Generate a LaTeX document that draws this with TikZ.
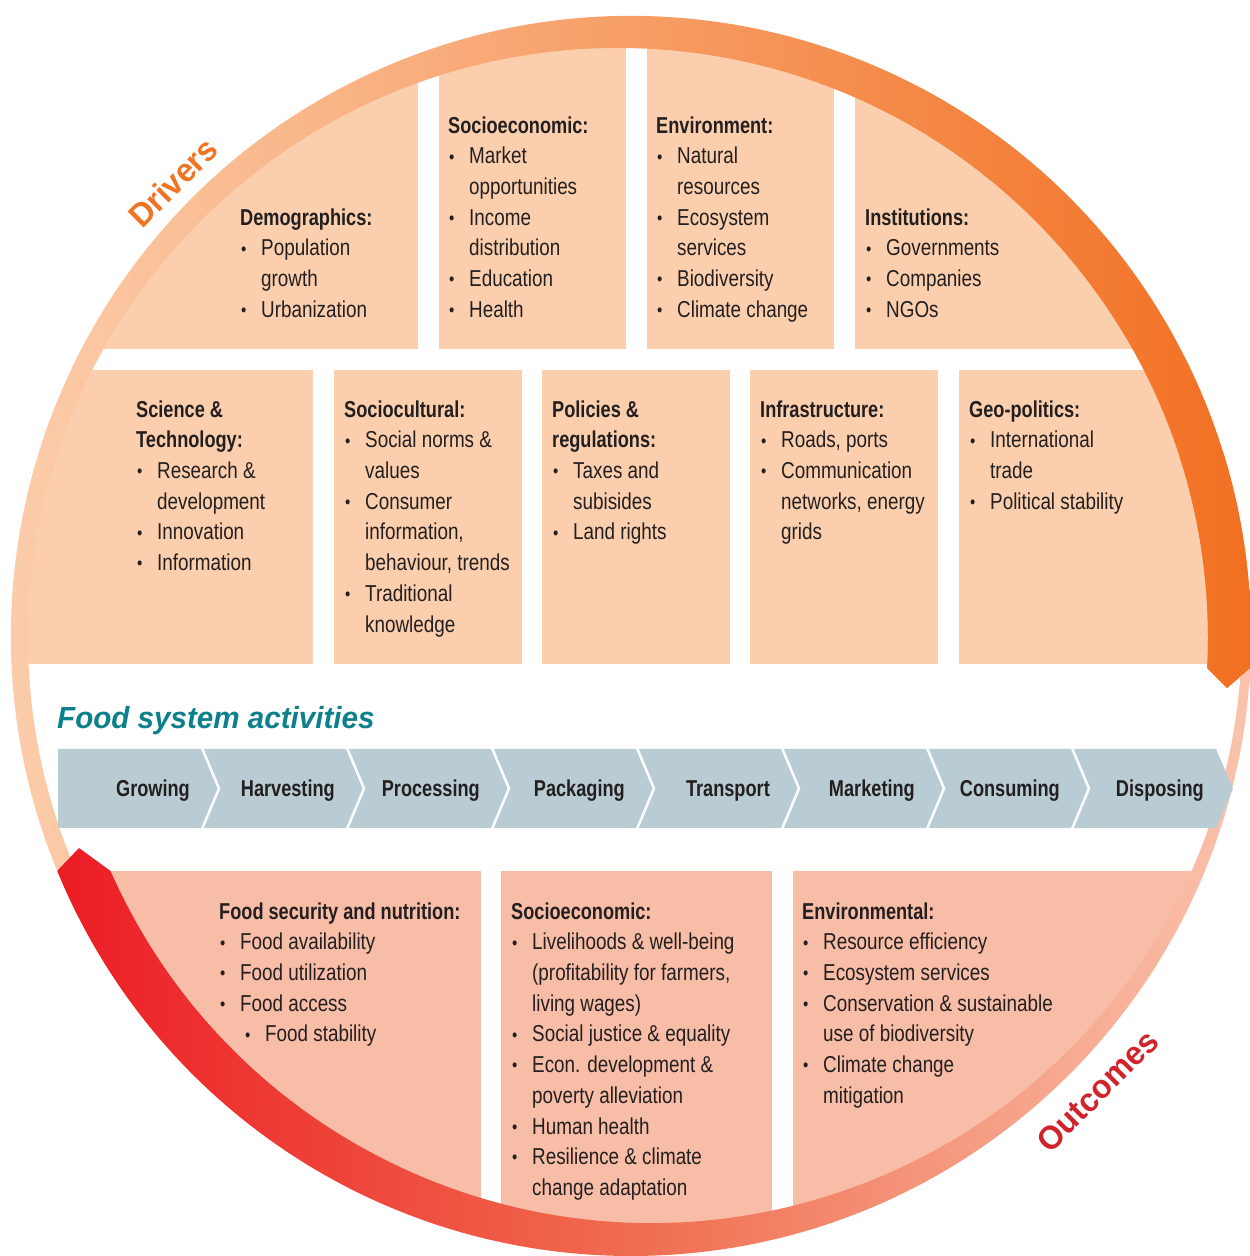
\documentclass[tikz,border=0pt]{standalone}
\usepackage{fontspec}
\usepackage{graphicx}
\setmainfont{Liberation Sans}[FakeStretch=0.82]
\newfontfamily\hdfont{Liberation Sans}[FakeStretch=0.79]
\newfontfamily\ttlfont{Liberation Sans}[FakeStretch=0.97]
\usetikzlibrary{calc}
\definecolor{boxtop}{HTML}{FBCFAD}
\definecolor{boxbot}{HTML}{F8BDA6}
\definecolor{chev}{HTML}{B9CBD3}
\definecolor{txt}{HTML}{231F20}
\definecolor{ttlcol}{HTML}{0E808C}
\definecolor{drvL}{HTML}{FCD3B4}
\definecolor{drvR}{HTML}{F26F21}
\definecolor{outL}{HTML}{EC1C24}
\definecolor{outM}{HTML}{F07052}
\definecolor{outR}{HTML}{FAC4AE}
\definecolor{drvtxt}{HTML}{EF7424}
\definecolor{outtxt}{HTML}{D0232C}
\newcommand{\myhd}[1]{{\hdfont\bfseries #1}}
\newcommand{\mybul}{\makebox[21pt][l]{\hspace{1pt}\raisebox{0.8pt}{\scalebox{0.8}{\textbullet}}}}
\newcommand{\myind}{\hspace*{21pt}}
\newcommand{\mystrut}{\rule{0pt}{20pt}}
\begin{document}
\begin{tikzpicture}[x=1pt,y=1pt,
  boxtext/.style={anchor=north west, inner sep=0pt, align=left, text=txt,
    font=\fontsize{23}{30.7}\selectfont},
  chevlbl/.style={anchor=base east, inner sep=0pt, text=txt,
    font=\hdfont\bfseries\fontsize{23}{23}\selectfont},
  ringlbl/.style={inner sep=0pt, anchor=base, rotate=45,
    font=\ttlfont\bfseries\fontsize{33}{33}\selectfont}]
\useasboundingbox (0,0) rectangle (1250,1256);
\coordinate (O) at (631,620);
\coordinate (Di) at (618,618);
\coordinate (Oi) at (651,624);

% boxes
\begin{scope}
\clip (O) circle[radius=619];
\fill[boxtop] (-10,907) rectangle (418,1300);
\fill[boxtop] (439,907) rectangle (626,1300);
\fill[boxtop] (647,907) rectangle (834,1300);
\fill[boxtop] (855,907) rectangle (1300,1300);
\fill[boxtop] (-10,592) rectangle (313,886);
\fill[boxtop] (334,592) rectangle (522,886);
\fill[boxtop] (542,592) rectangle (730,886);
\fill[boxtop] (750,592) rectangle (938,886);
\fill[boxtop] (959,592) rectangle (1300,886);
\fill[boxbot] (-10,-10) rectangle (481,385);
\fill[boxbot] (501,-10) rectangle (772,385);
\fill[boxbot] (793,-10) rectangle (1300,385);
\end{scope}

% drivers ring
\shade[left color=drvL, right color=drvR]
  ($(O)+(207:620)$) arc[start angle=207, end angle=-2.96, radius=620]
  -- (1227,568) -- ($(Di)+(-2.92:590)$)
  arc[start angle=-2.92, end angle=207, radius=590] -- cycle;
% outcomes ring
\shade[left color=outL, right color=outR, middle color=outM]
  ($(O)+(1:620)$) arc[start angle=1, end angle=-157.74, radius=620]
  -- (79,408) -- ($(Oi)+(-156.15:591)$)
  arc[start angle=-156.15, end angle=1, radius=591] -- cycle;
% drivers tip again on top
\begin{scope}
\clip (900,450) rectangle (1300,800);
\shade[left color=drvL, right color=drvR]
  ($(O)+(207:620)$) arc[start angle=207, end angle=-2.96, radius=620]
  -- (1227,568) -- ($(Di)+(-2.92:590)$)
  arc[start angle=-2.92, end angle=207, radius=590] -- cycle;
\end{scope}

\node[ringlbl, text=drvtxt] (drv) at ($(O)+(135.3:633)$) {Drivers};
\node[ringlbl, text=outtxt] (outc) at ($(O)+(-44.3:663)$) {Outcomes};

% activities band
\node[anchor=base west, inner sep=0pt, text=ttlcol,
  font=\ttlfont\bfseries\itshape\fontsize{30.5}{30.5}\selectfont] (fsa) at (57,527) {Food system activities};
\fill[chev] (58,507) -- (1216,507) -- (1233,467.5) -- (1216,428) -- (58,428) -- cycle;
\foreach \s in {202,347,492,637,782,927,1072}
  \draw[white, line width=2.5pt] (\s,508) -- (\s+17,467.5) -- (\s,427);
\foreach \s/\t [count=\i] in {202/Growing,347/Harvesting,492/Processing,637/Packaging,782/Transport,927/Marketing,1072/Consuming,1216/Disposing}
  \node[chevlbl] (act\i) at (\s-12,459) {\t};

% top row texts
\node[boxtext] (demo) at (240,1051) {\mystrut\myhd{Demographics:}\\
  \mybul Population\\ \myind growth\\ \mybul Urbanization};
\node[boxtext] (socio) at (448,1143) {\mystrut\myhd{Socioeconomic:}\\
  \mybul Market\\ \myind opportunities\\ \mybul Income\\ \myind distribution\\
  \mybul Education\\ \mybul Health};
\node[boxtext] (envi) at (656,1143) {\mystrut\myhd{Environment:}\\
  \mybul Natural\\ \myind resources\\ \mybul Ecosystem\\ \myind services\\
  \mybul Biodiversity\\ \mybul Climate change};
\node[boxtext] (inst) at (865,1051) {\mystrut\myhd{Institutions:}\\
  \mybul Governments\\ \mybul Companies\\ \mybul NGOs};

% second row texts
\node[boxtext] (scit) at (136,859) {\mystrut\myhd{Science \&}\\ \myhd{Technology:}\\
  \mybul Research \&\\ \myind development\\ \mybul Innovation\\ \mybul Information};
\node[boxtext] (socc) at (344,859) {\mystrut\myhd{Sociocultural:}\\
  \mybul Social norms \&\\ \myind values\\ \mybul Consumer\\ \myind information,\\
  \myind behaviour, trends\\ \mybul Traditional\\ \myind knowledge};
\node[boxtext] (poli) at (552,859) {\mystrut\myhd{Policies \&}\\ \myhd{regulations:}\\
  \mybul Taxes and\\ \myind subisides\\ \mybul Land rights};
\node[boxtext] (infr) at (760,859) {\mystrut\myhd{Infrastructure:}\\
  \mybul Roads, ports\\ \mybul Communication\\ \myind networks, energy\\ \myind grids};
\node[boxtext] (geop) at (969,859) {\mystrut\myhd{Geo-politics:}\\
  \mybul International\\ \myind trade\\ \mybul Political stability};

% bottom row texts
\node[boxtext] (fsn) at (219,357) {\mystrut\myhd{Food security and nutrition:}\\
  \mybul Food availability\\ \mybul Food utilization\\ \mybul Food access\\
  \hspace*{25pt}\mybul Food stability};
\node[boxtext] (soco) at (511,357) {\mystrut\myhd{Socioeconomic:}\\
  \mybul Livelihoods \& well-being\\ \myind (profitability for farmers,\\ \myind living wages)\\
  \mybul Social justice \& equality\\ \mybul Econ. development \&\\ \myind poverty alleviation\\
  \mybul Human health\\ \mybul Resilience \& climate\\ \myind change adaptation};
\node[boxtext] (envo) at (802,357) {\mystrut\myhd{Environmental:}\\
  \mybul Resource efficiency\\ \mybul Ecosystem services\\ \mybul Conservation \& sustainable\\
  \myind use of biodiversity\\ \mybul Climate change\\ \myind mitigation};
\end{tikzpicture}
\end{document}
